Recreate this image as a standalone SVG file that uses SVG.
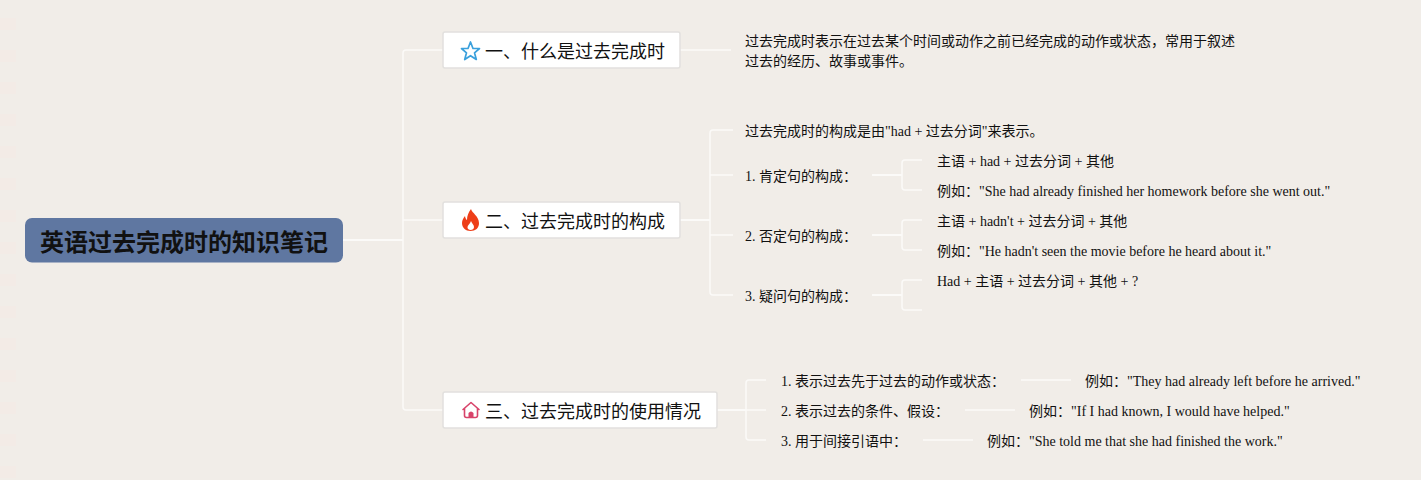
<svg xmlns="http://www.w3.org/2000/svg" width="1421" height="480" viewBox="0 0 1421 480">
<style>
text{font-family:"Liberation Serif","Noto Sans CJK SC",serif;fill:#111}
.t{font-size:14px}
.b{font-size:18px;font-family:"Noto Sans CJK SC",sans-serif;fill:#111}
.r{font-size:24px;font-weight:700;font-family:"Noto Sans CJK SC",sans-serif;fill:#111}
.box{fill:#fff;stroke:#e2e0de;stroke-width:1.5}
.c{fill:none;stroke:#fbfaf8;stroke-width:1.5}
.c2{fill:none;stroke:#fbfaf8;stroke-width:2}
.s{fill:#f4e9e3;opacity:.55}
</style>
<defs><rect id="st" class="s" x="0" y="18" width="16" height="12"/></defs>
<rect width="1421" height="480" fill="#f1ede8"/>
<g id="strip">
<use href="#st"/><use href="#st" y="32"/><use href="#st" y="64"/><use href="#st" y="96"/><use href="#st" y="128"/><use href="#st" y="160"/><use href="#st" y="192"/><use href="#st" y="224"/><use href="#st" y="256"/><use href="#st" y="288"/><use href="#st" y="320"/><use href="#st" y="352"/><use href="#st" y="384"/><use href="#st" y="416"/><use href="#st" y="448"/>
</g>
<g id="connectors">
<path class="c2" d="M343 240H403"/>
<path class="c" d="M443 50H406Q403 50 403 53V407Q403 410 406 410H443M403 220H443"/>
<path class="c" d="M680 50H731"/>
<path class="c2" d="M680 220H710"/>
<path class="c" d="M733 130H713Q710 130 710 133V292Q710 295 713 295H733M710 175H733M710 235H733"/>
<path class="c2" d="M872 175H902M872 235H902M872 295H902"/>
<path class="c" d="M922 160H905Q902 160 902 163V187Q902 190 905 190H922"/>
<path class="c" d="M922 220H905Q902 220 902 223V247Q902 250 905 250H922"/>
<path class="c" d="M922 280H905Q902 280 902 283V307Q902 310 905 310H922"/>
<path class="c2" d="M717 410H746"/>
<path class="c" d="M766 380H749Q746 380 746 383V437Q746 440 749 440H766M746 410H766"/>
<path class="c" d="M1021 380H1071M965 410H1015M923 440H973"/>
</g>
<g id="root">
<rect x="25" y="218" width="318" height="44.500" rx="7" fill="#5f77a1"/>
<text class="r" x="40" y="251">英语过去完成时的知识笔记</text>
</g>
<g id="branch1">
<rect class="box" x="443" y="32" width="237" height="36" rx="2"/>
<path d="M470.500 42L473 48.500H479.500L474.500 52.800L476.300 59.500L470.500 55.700L464.700 59.500L466.500 52.800L461.500 48.500H468Z" fill="none" stroke="#3aa0dc" stroke-width="1.700" stroke-linejoin="round"/>
<text class="b" x="485" y="58">一、什么是过去完成时</text>
</g>
<g id="branch2">
<rect class="box" x="443" y="202" width="237" height="36" rx="2"/>
<path d="M471 209C472 213 478.800 216 479 223C479.200 228 475.500 231 470.500 231C465.500 231 462 227.500 462 223C462 220 463.500 218 465 216C465.300 218 466 219.500 467 220C467 216 468.500 212 471 209ZM471 221C470 224 467.500 225 467.500 227.500C467.500 229 469 230 470.500 230C472.500 230 474 229 474 227C474 225 472 223.500 471 221Z" fill="#ee3e18" fill-rule="evenodd"/>
<text class="b" x="485" y="228">二、过去完成时的构成</text>
</g>
<g id="branch3">
<rect class="box" x="443" y="392" width="274" height="36" rx="2"/>
<path d="M463 409.500L471 402.500L479 409.500M464.500 408.500V415.500Q464.500 417.500 466.500 417.500H475.500Q477.500 417.500 477.500 415.500V408.500" fill="none" stroke="#d8436a" stroke-width="1.600" stroke-linejoin="round" stroke-linecap="round"/>
<path d="M468.500 417.500V413Q471 410 473.500 413V417.500Z" fill="#d8436a"/>
<text class="b" x="485" y="418">三、过去完成时的使用情况</text>
</g>
<g id="detail1">
<text class="t" x="745" y="46">过去完成时表示在过去某个时间或动作之前已经完成的动作或状态，常用于叙述</text>
<text class="t" x="745" y="66">过去的经历、故事或事件。</text>
</g>
<g id="detail2">
<text class="t" x="745" y="136">过去完成时的构成是由"had + 过去分词"来表示。</text>
<text class="t" x="745" y="181">1. 肯定句的构成：</text>
<text class="t" x="745" y="241">2. 否定句的构成：</text>
<text class="t" x="745" y="301">3. 疑问句的构成：</text>
<text class="t" x="937" y="166">主语 + had + 过去分词 + 其他</text>
<text class="t" x="937" y="196">例如："She had already finished her homework before she went out."</text>
<text class="t" x="937" y="226">主语 + hadn't + 过去分词 + 其他</text>
<text class="t" x="937" y="256">例如："He hadn't seen the movie before he heard about it."</text>
<text class="t" x="937" y="286">Had + 主语 + 过去分词 + 其他 + ?</text>
</g>
<g id="detail3">
<text class="t" x="781" y="386">1. 表示过去先于过去的动作或状态：</text>
<text class="t" x="781" y="416">2. 表示过去的条件、假设：</text>
<text class="t" x="781" y="446">3. 用于间接引语中：</text>
<text class="t" x="1085" y="386">例如："They had already left before he arrived."</text>
<text class="t" x="1029" y="416">例如："If I had known, I would have helped."</text>
<text class="t" x="987" y="446">例如："She told me that she had finished the work."</text>
</g>
</svg>
